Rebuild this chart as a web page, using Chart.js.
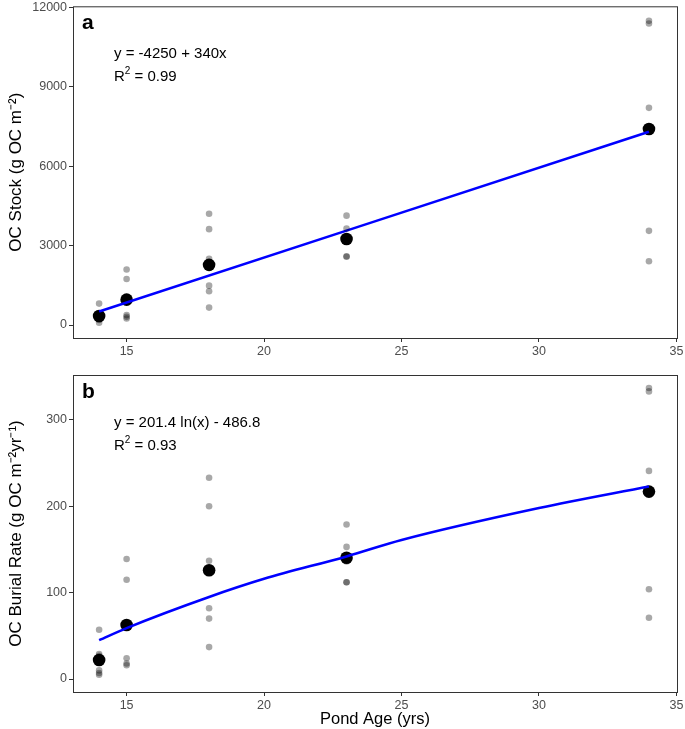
<!DOCTYPE html>
<html>
<head>
<meta charset="utf-8">
<script src="https://cdn.jsdelivr.net/npm/chart.js@4.4.1/dist/chart.umd.min.js"></script>
<style>
  body { margin: 0; background: #fff; }
  #wrap { position: relative; width: 685px; height: 729px; }
  canvas { position: absolute; left: 0; }
</style>
</head>
<body>
<div id="wrap">
  <canvas id="stock" width="685" height="362" style="top:0"></canvas>
  <canvas id="rate" width="685" height="367" style="top:362px"></canvas>
</div>
<script>
// pond ages and per-core values
const ages = [14, 15, 18, 23, 34];

const stockAge = [14, 14, 14, 14, 15, 15, 15, 15, 15, 18, 18, 18, 18, 18, 18, 23, 23, 23, 23, 34, 34, 34, 34, 34];
const stockRaw = [810, 350, 190, 90, 2100, 1740, 375, 310, 250, 4210, 3625, 2500, 1490, 1275, 660, 4135, 3650, 2600, 2580, 11500, 11400, 8210, 3560, 2410];
const stockMean = [340, 960, 2275, 3250, 7410];
const stockFitX = [14, 34];
const stockFitY = [510, 7310];

const rateAge = [14, 14, 14, 14, 14, 14, 15, 15, 15, 15, 15, 18, 18, 18, 18, 18, 18, 23, 23, 23, 23, 23, 34, 34, 34, 34, 34];
const rateRaw = [57, 29, 27, 10, 7, 5, 139, 115, 24, 18, 16, 233, 200, 137, 82, 70, 37, 179, 153, 136, 112, 112, 337, 333, 241, 104, 71];
const rateMean = [22, 62.5, 126, 140.5, 217];
const rateFitX = [14, 15, 18, 20, 23, 25, 30, 34];
const rateFitY = [45, 59, 95, 116, 142, 161, 198, 223];

const xTicks = [15, 20, 25, 30, 35];
const stockTicks = [0, 3000, 6000, 9000, 12000];
const rateTicks = [0, 100, 200, 300];

const FONT = 'Liberation Sans, Arial, sans-serif';

const frame = {
  id: 'frame',
  afterDraw(chart, args, opts) {
    const { ctx, chartArea: a } = chart;
    ctx.save();
    ctx.strokeStyle = '#333';
    ctx.lineWidth = 1;
    ctx.strokeRect(a.left + 0.5, a.top + 0.5, a.right - a.left, a.bottom - a.top);
    // panel letter and fit equation
    ctx.fillStyle = '#000';
    ctx.textBaseline = 'middle';
    ctx.font = 'bold 21px ' + FONT;
    ctx.fillText(opts.letter, a.left + 9, a.top + 17);
    ctx.font = '15px ' + FONT;
    ctx.fillText(opts.eq, a.left + 41, a.top + 48);
    ctx.fillText('R', a.left + 41, a.top + 71);
    const rw = ctx.measureText('R').width;
    ctx.font = '10px ' + FONT;
    ctx.fillText('2', a.left + 41 + rw, a.top + 65);
    const sw = ctx.measureText('2').width;
    ctx.font = '15px ' + FONT;
    ctx.fillText(' = ' + opts.r2, a.left + 41 + rw + sw, a.top + 71);
    ctx.restore();
  }
};

function points(xs, ys) {
  return xs.map((x, i) => ({ x: x, y: ys[i] }));
}

function panel(id, rawX, rawY, means, fitX, fitY, yMin, yMax, yTicks, padTop, xHeight, yTitle, xTitle, letter, eq, r2) {
  new Chart(document.getElementById(id), {
    type: 'scatter',
    data: {
      datasets: [
        {
          data: points(rawX, rawY),
          backgroundColor: 'rgba(0,0,0,0.34)',
          borderWidth: 0,
          pointRadius: 3.3
        },
        {
          data: points(fitX, fitY),
          showLine: true,
          borderColor: '#0000ff',
          borderWidth: 2.6,
          pointRadius: 0,
          tension: 0.4,
          cubicInterpolationMode: 'monotone'
        },
        {
          data: points(ages, means),
          backgroundColor: '#000',
          borderWidth: 0,
          pointRadius: 6.3
        }
      ]
    },
    options: {
      responsive: false,
      animation: false,
      layout: { padding: { top: padTop, right: 8, left: 0, bottom: 0 } },
      plugins: {
        legend: { display: false },
        tooltip: { enabled: false },
        frame: { letter: letter, eq: eq, r2: r2 }
      },
      scales: {
        x: {
          type: 'linear',
          min: 13.05,
          max: 35.02,
          afterBuildTicks: s => { s.ticks = xTicks.map(v => ({ value: v })); },
          afterFit: s => { s.height = xHeight; s.paddingLeft = 0; s.paddingRight = 0; },
          grid: { drawOnChartArea: false, tickLength: 4, color: '#333' },
          border: { display: false },
          ticks: { color: '#4d4d4d', font: { family: FONT, size: 12.5 }, padding: 2, maxRotation: 0, callback: v => String(v) },
          title: { display: !!xTitle, text: xTitle, color: '#000', font: { family: FONT, size: 16.5 }, padding: { top: 0, bottom: 0 } }
        },
        y: {
          min: yMin,
          max: yMax,
          afterBuildTicks: s => { s.ticks = yTicks.map(v => ({ value: v })); },
          afterFit: s => { s.width = 73; s.paddingTop = 0; s.paddingBottom = 0; },
          grid: { drawOnChartArea: false, tickLength: 4, color: '#333' },
          border: { display: false },
          ticks: { color: '#4d4d4d', font: { family: FONT, size: 12.5 }, padding: 2, callback: v => String(v) },
          title: { display: true, text: yTitle, color: '#000', font: { family: FONT, size: 17 }, padding: { top: 6, bottom: 4 } }
        }
      }
    },
    plugins: [frame]
  });
}

panel('stock', stockAge, stockRaw, stockMean, stockFitX, stockFitY, -490, 12050, stockTicks, 5, 24,
  'OC Stock (g OC m\u207B\u00B2)', '', 'a', 'y = -4250 + 340x', '0.99');
panel('rate', rateAge, rateRaw, rateMean, rateFitX, rateFitY, -15, 352, rateTicks, 13, 37,
  'OC Burial Rate (g OC m\u207B\u00B2yr\u207B\u00B9)', 'Pond Age (yrs)', 'b', 'y = 201.4 ln(x) - 486.8', '0.93');
</script>
</body>
</html>
